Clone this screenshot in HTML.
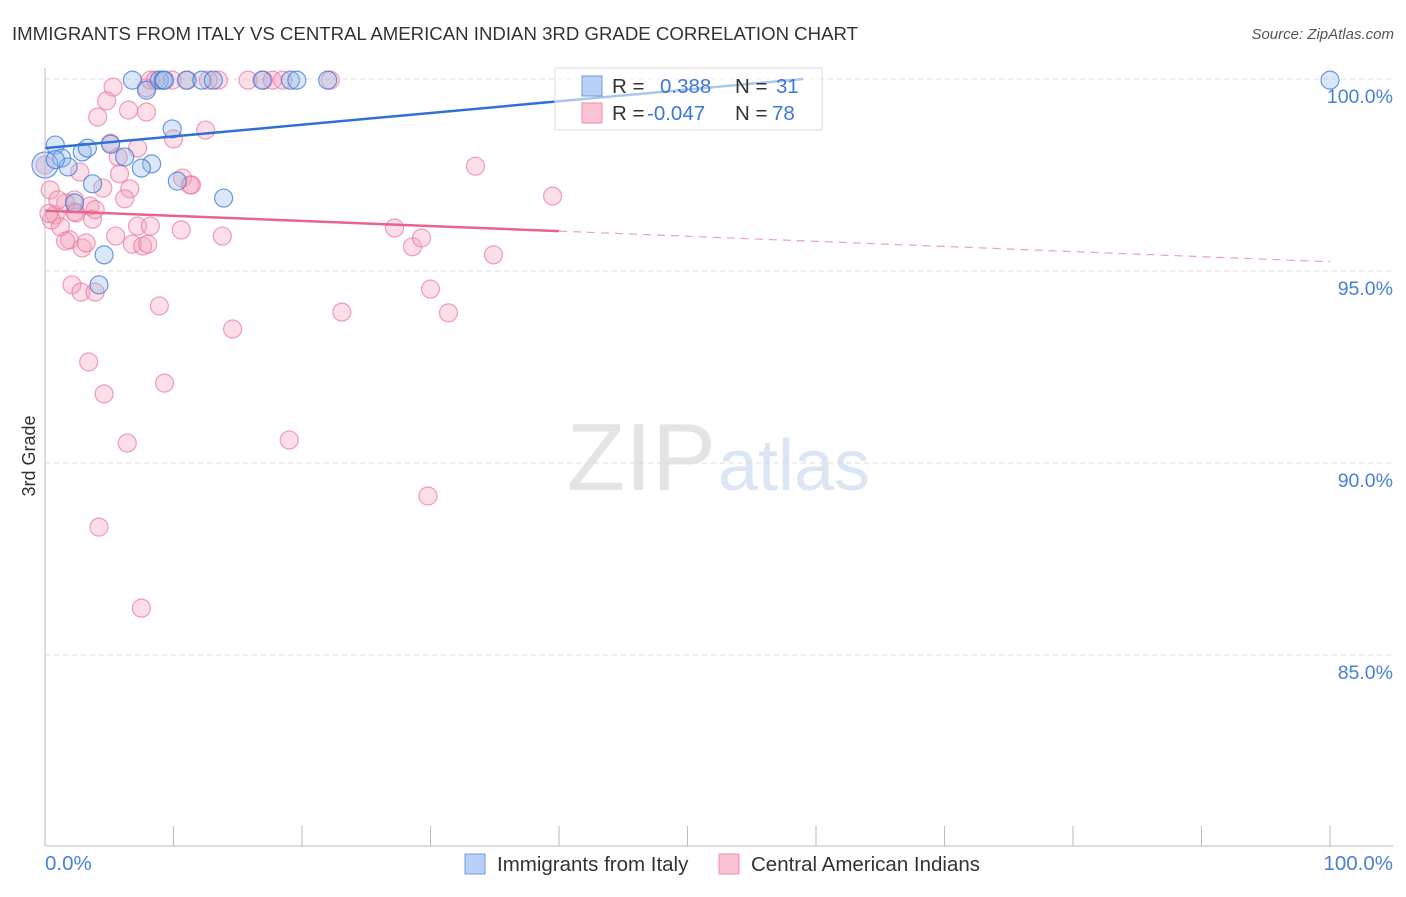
<!DOCTYPE html>
<html><head><meta charset="utf-8"><style>
body{margin:0;background:#fff;font-family:"Liberation Sans",sans-serif}
svg text{font-family:"Liberation Sans",sans-serif}
</style></head><body>
<svg id="c" width="1406" height="892">
<text x="12" y="40" font-size="18" fill="#333" textLength="846" lengthAdjust="spacingAndGlyphs">IMMIGRANTS FROM ITALY VS CENTRAL AMERICAN INDIAN 3RD GRADE CORRELATION CHART</text>
<text x="1394" y="39" font-size="15" fill="#555" font-style="italic" text-anchor="end">Source: ZipAtlas.com</text>
<text x="716" y="490" font-size="96" fill="#e4e4e4" font-family="Liberation Serif" text-anchor="end">ZIP</text>
<text x="718" y="490" font-size="72" fill="#dbe6f5">atlas</text>
<g id="grid"></g><g id="pts"></g><g id="trend"></g>
<line x1="45" y1="68" x2="45" y2="846" stroke="#bbb"/>
<line x1="45" y1="846" x2="1393" y2="846" stroke="#bbb"/>
<text x="35" y="456" font-size="18" fill="#333" transform="rotate(-90 35 456)" text-anchor="middle">3rd Grade</text>
<text x="45" y="870" font-size="20.5" fill="#4a7fd6">0.0%</text>
<text x="1393" y="870" font-size="20.5" fill="#4a7fd6" text-anchor="end">100.0%</text>
<g>
<rect x="555" y="68" width="267" height="62" fill="#fff" fill-opacity="0.6" stroke="#ddd"/>
<rect x="582" y="76" width="20" height="20" fill="#b7d0f5" stroke="#6b9de8"/>
<rect x="582" y="103" width="20" height="20" fill="#f9c3d3" stroke="#ef8fac"/>
<text x="612" y="93" font-size="20.5" fill="#333">R = </text><text x="660" y="93" font-size="20.5" fill="#3b78d8">0.388</text>
<text x="735" y="93" font-size="20.5" fill="#333">N = </text><text x="776" y="93" font-size="20.5" fill="#3b78d8">31</text>
<text x="612" y="120" font-size="20.5" fill="#333">R = </text><text x="647" y="120" font-size="20.5" fill="#3b78d8">-0.047</text>
<text x="735" y="120" font-size="20.5" fill="#333">N = </text><text x="772" y="120" font-size="20.5" fill="#3b78d8">78</text>
</g>
<g><rect x="465" y="854" width="20" height="20" fill="#b7d0f5" stroke="#6b9de8"/><text x="497" y="871" font-size="20.5" fill="#333">Immigrants from Italy</text></g>
<g><rect x="719" y="854" width="20" height="20" fill="#f9c3d3" stroke="#ef8fac"/><text x="751" y="871" font-size="20.5" fill="#333">Central American Indians</text></g>
</svg>
<script>
const yTicks=[100,95,90,85];
const yTickLabels=["100.0%","95.0%","90.0%","85.0%"];
const xTicks=[0,10,20,30,40,50,60,70,80,90,100];
const blueX=[0.8,1.3,1.8,2.9,3.3,3.7,2.3,4.6,4.2,5.1,6.2,6.8,7.9,8.3,7.5,8.9,9.2,9.9,10.3,11.0,12.2,13.1,13.9,16.9,19.1,19.6,22.0,100,0,9.3,0.8];
const blueY=[98.28,97.94,97.71,98.1,98.2,97.27,96.77,95.42,94.64,98.3,97.97,99.97,99.71,97.79,97.68,99.97,99.97,98.7,97.34,99.97,99.97,99.97,96.9,99.97,99.97,99.97,99.97,99.97,97.76,99.97,97.9];
const pinkX=[8.2,8.6,9.9,11.1,15.8,17.0,17.7,18.5,22.2,13.5,12.7,5.3,4.8,4.1,6.5,7.9,7.9,5.1,7.2,5.7,10.0,12.5,33.5,39.5,0.4,0,2.7,4.5,5.8,6.6,10.7,11.4,6.2,2.3,3.5,0.8,0.5,1.2,2.3,3.7,1.9,1.6,2.9,3.2,5.5,6.8,7.6,7.2,8.2,10.6,13.8,27.2,28.6,29.3,34.9,2.1,2.8,3.9,8.9,14.6,23.1,30.0,31.4,3.4,4.6,9.3,6.4,19.0,29.8,4.2,7.5,1.6,2.4,1.0,11.3,8.0,0.3,3.9];
const pinkY=[99.97,99.97,99.97,99.97,99.97,99.97,99.97,99.97,99.97,99.97,99.97,99.79,99.43,99.01,99.19,99.14,99.77,98.33,98.2,97.97,98.44,98.67,97.73,96.95,97.11,97.76,97.58,97.16,97.53,97.14,97.42,97.24,96.88,96.85,96.69,96.46,96.33,96.15,96.54,96.35,95.81,95.78,95.6,95.73,95.91,95.7,95.65,96.17,96.17,96.07,95.91,96.12,95.63,95.86,95.42,94.64,94.45,94.45,94.09,93.49,93.93,94.53,93.91,92.63,91.8,92.08,90.52,90.6,89.14,88.33,86.22,96.77,96.51,96.85,97.24,95.7,96.5,96.6];
const blueTrend=[98.2,0.0305];
const pinkTrend=[96.57,-0.0133];
const X=v=>45+v*12.85, Y=v=>79+(100-v)*38.4;
const NS="http://www.w3.org/2000/svg";
function mk(t,a,p){const e=document.createElementNS(NS,t);for(const k in a)e.setAttribute(k,a[k]);p.appendChild(e);return e;}
const g=document.getElementById('grid');
yTicks.forEach((t,i)=>{
 const l=mk('line',{x1:45,x2:1393,y1:Y(t),y2:Y(t),stroke:'#ddd','stroke-dasharray':'5,4'},g);
 
 
 const tx=mk('text',{x:1393,y:Y(t)+24,'font-size':19.5,fill:'#4a7fd6','text-anchor':'end'},g);
 tx.textContent=yTickLabels[i];
 
 
});
xTicks.forEach(t=>{
 const l=mk('line',{x1:X(t),x2:X(t),y1:826,y2:846,stroke:'#bbb'},g);
 
 
});
const p=document.getElementById('pts');
pinkX.forEach((x,i)=>{
 const c=mk('circle',{cx:X(x),cy:Y(pinkY[i]),r:9,fill:'rgba(244,160,187,0.35)',stroke:'rgba(233,120,155,0.7)','stroke-width':1.2},p);
 
 
});
blueX.forEach((x,i)=>{
 const c=mk('circle',{cx:X(x),cy:Y(blueY[i]),r:i==28?13:9,fill:'rgba(150,185,235,0.35)',stroke:'rgba(60,120,215,0.75)','stroke-width':1.2},p);
 
 
});
const tr=document.getElementById('trend');
const bx1=(100-blueTrend[0])/blueTrend[1];
let l=mk('line',{x1:X(0),y1:Y(blueTrend[0]),x2:X(bx1),y2:Y(100),stroke:'#2f6fd6','stroke-width':2.5},tr);


l=mk('line',{x1:X(0),y1:Y(pinkTrend[0]),x2:X(40),y2:Y(pinkTrend[0]+pinkTrend[1]*40),stroke:'#e8628d','stroke-width':2.5},tr);


l=mk('line',{x1:X(40),y1:Y(pinkTrend[0]+pinkTrend[1]*40),x2:X(100),y2:Y(pinkTrend[0]+pinkTrend[1]*100),stroke:'#eda0b8','stroke-width':1.2,'stroke-dasharray':'8,6'},tr);


</script>
</body></html>
